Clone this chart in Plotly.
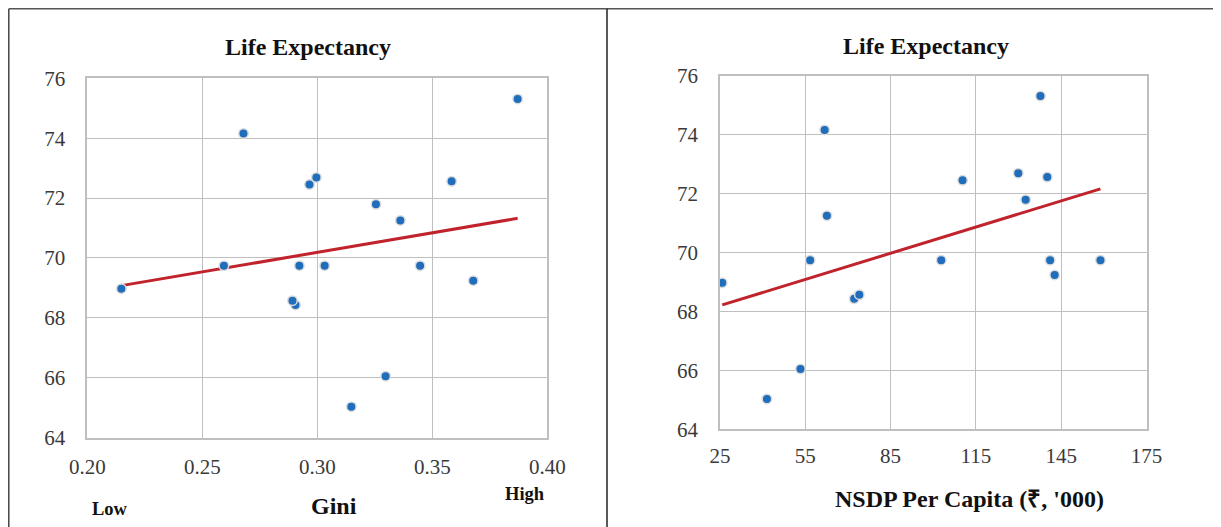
import numpy as np
import plotly.graph_objects as go

# Life expectancy per state, with the matching Gini and NSDP per capita values
life_exp = [65.03, 66.05, 68.43, 68.57, 68.97, 69.24, 69.74, 69.74, 69.74, 69.74,
            71.25, 71.79, 72.45, 72.56, 72.69, 74.16, 75.31]
gini = [0.3148, 0.3297, 0.2905, 0.2892, 0.2148, 0.3678, 0.2594, 0.2922, 0.3032, 0.3447,
        0.3361, 0.3255, 0.2966, 0.3584, 0.2996, 0.2679, 0.3871]
nsdp = [41.5, 53.3, 72.2, 74.0, 25.8, 142.7, 56.7, 102.8, 141.1, 158.8,
        62.6, 132.5, 110.3, 140.1, 129.9, 61.8, 137.7]

gini_ticks = [0.20, 0.25, 0.30, 0.35, 0.40]
nsdp_ticks = [25, 55, 85, 115, 145, 175]
le_ticks = [64, 66, 68, 70, 72, 74, 76]

# the page body has an 8px margin, so the figure is shrunk by that much
OFF = 8
W, H = 1221 - OFF, 527 - OFF
SERIF = "Liberation Serif"
DOT = "#1f6dbb"
TREND = "#c0232c"
GRID = "#bfbfbf"


def px_x(p):
    return (p - OFF) / W


def px_y(p):
    return 1 - (p - OFF) / H


def trend(x, y):
    # ordinary least squares line, drawn from the smallest to the largest x
    k, b = np.polyfit(x, y, 1)
    xs = np.array([min(x), max(x)])
    return xs, k * xs + b


fig = go.Figure()

for xs, axis in [(gini, "x"), (nsdp, "x2")]:
    tx, ty = trend(xs, life_exp)
    yaxis = "y" if axis == "x" else "y2"
    fig.add_trace(go.Scatter(x=tx, y=ty, mode="lines", xaxis=axis, yaxis=yaxis,
                             line=dict(color=TREND, width=3), hoverinfo="skip"))
    fig.add_trace(go.Scatter(x=xs, y=life_exp, mode="markers", xaxis=axis, yaxis=yaxis,
                             marker=dict(size=9.5, color=DOT,
                                         line=dict(color="#dcdcdc", width=1.5))))

tickfont = dict(family=SERIF, size=21, color="#3a3a3a")
common_x = dict(showgrid=True, gridcolor=GRID, gridwidth=1.3, showline=True,
                linecolor=GRID, linewidth=1.5, mirror=True, zeroline=False,
                ticks="", tickfont=tickfont, ticklabelstandoff=10, automargin=False,
                fixedrange=True)
common_y = dict(common_x, ticklabelstandoff=16, tickvals=le_ticks, range=[64, 76])

fig.update_layout(
    width=W, height=H,
    margin=dict(l=0, r=0, t=0, b=0),
    paper_bgcolor="white", plot_bgcolor="white",
    showlegend=False,
    xaxis=dict(common_x, domain=[px_x(87.3), px_x(547.3)], range=[0.2, 0.4],
               tickvals=gini_ticks, ticktext=[f"{v:.2f}" for v in gini_ticks]),
    yaxis=dict(common_y, domain=[px_y(437.5), px_y(78.3)], anchor="x"),
    xaxis2=dict(common_x, domain=[px_x(720), px_x(1146.5)], range=[25, 175],
                tickvals=nsdp_ticks, anchor="y2", ticklabelstandoff=7),
    yaxis2=dict(common_y, domain=[px_y(429.3), px_y(75.7)], anchor="x2"),
)

bold = dict(family=SERIF, color="#111111")
labels = [
    ("<b>Life Expectancy</b>", 308, 46.5, 24),
    ("<b>Life Expectancy</b>", 925.5, 46.0, 24),
    ("<b>Gini</b>", 334, 506, 24),
    ("<b>Low</b>", 110, 509, 18.5),
    ("<b>High</b>", 525, 494, 18.5),
    ("<b>NSDP Per Capita (₹, '000)</b>", 969, 499, 24),
]
for text, px, py, size in labels:
    fig.add_annotation(text=text, x=px_x(px), y=px_y(py), xref="paper", yref="paper",
                       xanchor="center", yanchor="middle", showarrow=False,
                       font=dict(bold, size=size))

# table-cell style frame around the two panels
top = px_y(8.8)
frame = [
    (px_x(8.8), top, 1, top, "#555555"),
    (px_x(8.8), 0, px_x(8.8), top, "#444444"),
    (px_x(607), 0, px_x(607), top, "#222222"),
    (px_x(1219), 0, px_x(1219), top, "#a6a6a6"),
]
for x0, y0, x1, y1, color in frame:
    fig.add_shape(type="line", xref="paper", yref="paper", x0=x0, y0=y0, x1=x1, y1=y1,
                  line=dict(color=color, width=1.5))

fig.write_html("out.html")
